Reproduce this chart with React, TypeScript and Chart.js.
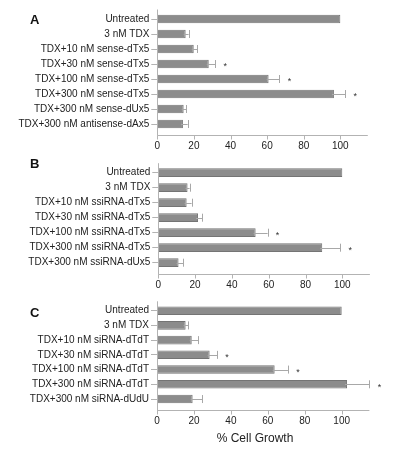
import React, { useEffect, useRef } from "react";
import { Chart, registerables } from "chart.js";
Chart.register(...registerables);

const labelsA = ["Untreated", "3 nM TDX", "TDX+10 nM sense-dTx5", "TDX+30 nM sense-dTx5", "TDX+100 nM sense-dTx5", "TDX+300 nM sense-dTx5", "TDX+300 nM sense-dUx5", "TDX+300 nM antisense-dAx5"];
const valuesA = [100, 15.5, 19.9, 28.1, 60.8, 96.5, 14.4, 14.0];
const errorsA = [100, 17.1, 21.7, 31.7, 66.7, 102.7, 15.7, 16.6];
const starsA = [false, false, false, true, true, true, false, false];

const labelsB = ["Untreated", "3 nM TDX", "TDX+10 nM ssiRNA-dTx5", "TDX+30 nM ssiRNA-dTx5", "TDX+100 nM ssiRNA-dTx5", "TDX+300 nM ssiRNA-dTx5", "TDX+300 nM ssiRNA-dUx5"];
const valuesB = [100, 15.9, 15.4, 21.6, 52.9, 89.1, 11.0];
const errorsB = [100, 17.0, 18.1, 23.9, 59.4, 98.9, 13.6];
const starsB = [false, false, false, false, true, true, false];

const labelsC = ["Untreated", "3 nM TDX", "TDX+10 nM siRNA-dTdT", "TDX+30 nM siRNA-dTdT", "TDX+100 nM siRNA-dTdT", "TDX+300 nM siRNA-dTdT", "TDX+300 nM siRNA-dUdU"];
const valuesC = [100, 15.5, 18.8, 28.5, 63.7, 102.9, 19.3];
const errorsC = [100, 17.0, 22.4, 32.5, 70.9, 115.0, 24.5];
const starsC = [false, false, false, true, true, true, false];

const xMin = 0;
const xMax = 115;
const xStep = 20;
const xTitle = "% Cell Growth";
const panelLetters = ["A", "B", "C"];

const FONT = "'Liberation Sans', Arial, sans-serif";
const AXIS = "#b3b3b3";

type PanelProps = {
  labels: string[];
  values: number[];
  errors: number[];
  stars: boolean[];
  top: number;
  height: number;
  padTop: number;
  padRight: number;
  yWidth: number;
  xHeight: number;
};

function Panel(p: PanelProps) {
  const ref = useRef<HTMLCanvasElement>(null);
  useEffect(() => {
    const extras = {
      id: "extras",
      afterDatasetsDraw(chart: any) {
        const { ctx, scales } = chart;
        const x = scales.x;
        const meta = chart.getDatasetMeta(0);
        ctx.save();
        meta.data.forEach((bar: any, i: number) => {
          const e = p.errors[i];
          const v = p.values[i];
          const y = bar.y;
          const ex = x.getPixelForValue(e);
          if (e > v) {
            ctx.strokeStyle = "#a8a8a8";
            ctx.lineWidth = 1;
            ctx.beginPath();
            ctx.moveTo(bar.x - 2, Math.round(y) + 0.5);
            ctx.lineTo(ex, Math.round(y) + 0.5);
            const cx = Math.round(ex) + 0.5;
            ctx.moveTo(cx, y - 4);
            ctx.lineTo(cx, y + 4);
            ctx.stroke();
          }
          if (p.stars[i]) {
            ctx.fillStyle = "#333";
            ctx.font = `9px ${FONT}`;
            ctx.textAlign = "center";
            ctx.textBaseline = "middle";
            ctx.fillText("*", Math.max(ex, bar.x) + 10, y + 3);
          }
        });
        ctx.restore();
      },
      afterDraw(chart: any) {
        const { ctx, chartArea: a, scales } = chart;
        const x = scales.x;
        const lineY = Math.round(a.bottom + 3.5) + 0.5;
        const lx = Math.round(a.left) + 0.5;
        ctx.save();
        ctx.strokeStyle = AXIS;
        ctx.lineWidth = 1;
        ctx.beginPath();
        ctx.moveTo(lx, a.top - 2);
        ctx.lineTo(lx, lineY);
        ctx.moveTo(a.left, lineY);
        ctx.lineTo(a.right, lineY);
        for (const t of x.ticks) {
          const px = Math.round(x.getPixelForValue(t.value)) + 0.5;
          ctx.moveTo(px, lineY);
          ctx.lineTo(px, lineY + 4);
        }
        ctx.stroke();
        ctx.restore();
      },
    };
    const chart = new Chart(ref.current as HTMLCanvasElement, {
      type: "bar",
      data: {
        labels: p.labels,
        datasets: [
          {
            data: p.values,
            backgroundColor: "#8c8c8c",
            borderColor: "#747474",
            borderWidth: 1,
            barPercentage: 0.58,
            categoryPercentage: 1,
          },
        ],
      },
      options: {
        indexAxis: "y",
        responsive: false,
        maintainAspectRatio: false,
        animation: false,
        layout: { padding: { top: p.padTop, right: p.padRight, left: 0, bottom: 0 } },
        plugins: { legend: { display: false }, tooltip: { enabled: false } },
        scales: {
          x: {
            min: xMin,
            max: xMax,
            ticks: {
              stepSize: xStep,
              includeBounds: false,
              padding: 9,
              maxRotation: 0,
              color: "#222",
              font: { family: FONT, size: 10 },
            },
            grid: { display: false, drawTicks: false },
            border: { display: false },
            afterFit: (s: any) => {
              s.height = p.xHeight;
            },
          },
          y: {
            ticks: {
              padding: 2,
              autoSkip: false,
              color: "#222",
              font: { family: FONT, size: 10 },
            },
            grid: {
              display: true,
              drawOnChartArea: false,
              drawTicks: true,
              tickLength: 6,
              offset: false,
              color: AXIS,
            },
            border: { display: false },
            afterFit: (s: any) => {
              s.width = p.yWidth;
            },
          },
        },
      } as any,
      plugins: [extras],
    });
    return () => chart.destroy();
  }, []);
  return (
    <canvas
      ref={ref}
      width={410}
      height={p.height}
      style={{ position: "absolute", left: 0, top: p.top, width: 410, height: p.height }}
    />
  );
}

const letterStyle = (top: number): React.CSSProperties => ({
  position: "absolute",
  left: 30,
  top,
  font: `bold 13px ${FONT}`,
  lineHeight: "15px",
  color: "#111",
});

export default function App() {
  return (
    <div style={{ position: "absolute", left: 0, top: 0, width: 410, height: 455, background: "#fff", overflow: "hidden" }}>
      <Panel labels={labelsA} values={valuesA} errors={errorsA} stars={starsA} top={0} height={155} padTop={11.5} padRight={42.2} yWidth={157.3} xHeight={23.5} />
      <Panel labels={labelsB} values={valuesB} errors={errorsB} stars={starsB} top={155} height={135} padTop={10.2} padRight={40.1} yWidth={158.3} xHeight={19.8} />
      <Panel labels={labelsC} values={valuesC} errors={errorsC} stars={starsC} top={290} height={165} padTop={13.3} padRight={40.6} yWidth={157} xHeight={48.6} />
      <div style={letterStyle(12.2)}>{panelLetters[0]}</div>
      <div style={letterStyle(155.5)}>{panelLetters[1]}</div>
      <div style={letterStyle(304.5)}>{panelLetters[2]}</div>
      <div
        style={{
          position: "absolute",
          left: 195,
          width: 120,
          top: 430.6,
          textAlign: "center",
          font: `12px ${FONT}`,
          lineHeight: "14px",
          color: "#222",
        }}
      >
        {xTitle}
      </div>
    </div>
  );
}
